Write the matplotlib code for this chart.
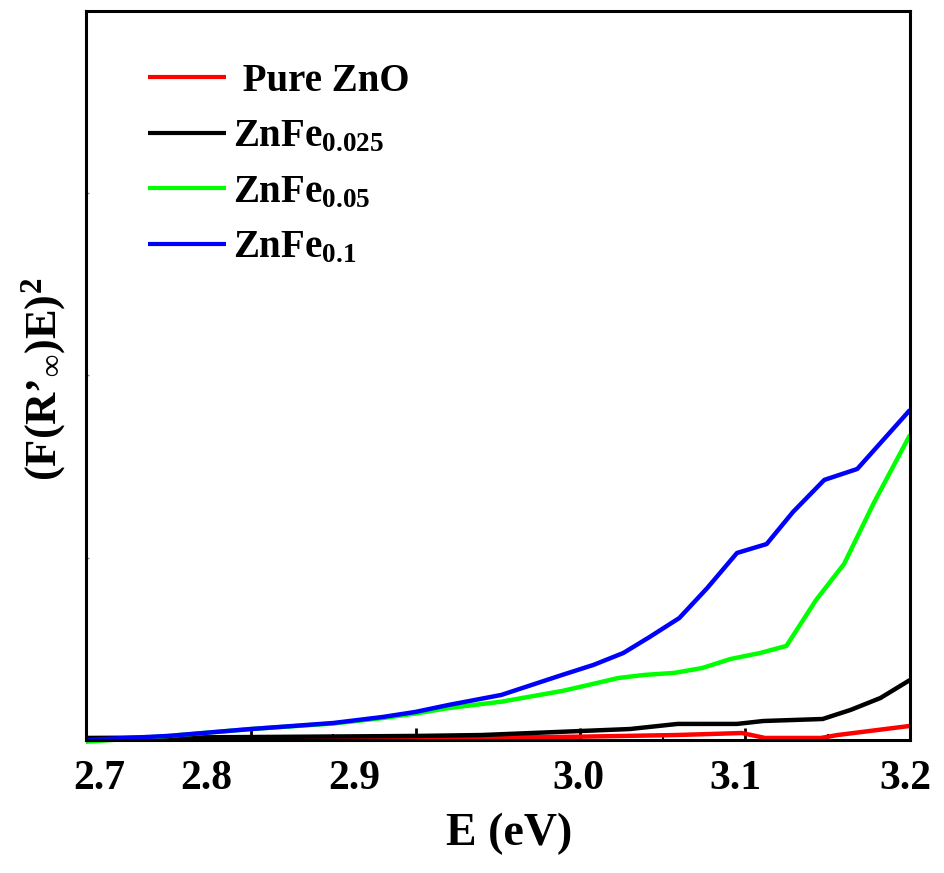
import matplotlib
matplotlib.use("Agg")
import matplotlib.pyplot as plt
from matplotlib.ticker import MultipleLocator, NullFormatter
from matplotlib.transforms import blended_transform_factory

plt.rcParams['font.family'] = ['Liberation Serif', 'DejaVu Serif']
plt.rcParams['font.weight'] = 'bold'
plt.rcParams['mathtext.fontset'] = 'custom'
plt.rcParams['mathtext.rm'] = 'Liberation Serif:bold'
plt.rcParams['mathtext.it'] = 'Liberation Serif:bold'
plt.rcParams['mathtext.bf'] = 'Liberation Serif:bold'
plt.rcParams['mathtext.default'] = 'rm'

# ---- data ----
e_pure = [2.70, 2.80, 2.90, 3.00, 3.058, 3.098, 3.112, 3.146, 3.156, 3.20]
y_pure = [0.000, 0.005, 0.008, 0.018, 0.027, 0.038, 0.011, 0.011, 0.027, 0.077]

e_fe025 = [2.70, 2.80, 2.90, 2.94, 2.97, 3.00, 3.03, 3.059, 3.095, 3.111, 3.147, 3.164, 3.182, 3.20]
y_fe025 = [0.011, 0.016, 0.022, 0.027, 0.038, 0.049, 0.060, 0.088, 0.088, 0.104, 0.115, 0.165, 0.230, 0.329]

e_fe05 = [2.70, 2.75, 2.80, 2.85, 2.88, 2.90, 2.92, 2.952, 2.989, 3.005, 3.023, 3.039,
          3.057, 3.074, 3.091, 3.109, 3.125, 3.143, 3.160, 3.178, 3.20]
y_fe05 = [-0.01, 0.022, 0.060, 0.090, 0.120, 0.145, 0.175, 0.210, 0.269, 0.302, 0.340, 0.357,
          0.368, 0.395, 0.444, 0.477, 0.516, 0.768, 0.966, 1.300, 1.674]

e_fe1 = [2.70, 2.75, 2.80, 2.826, 2.85, 2.88, 2.90, 2.92, 2.952, 2.989, 3.008, 3.026,
         3.042, 3.060, 3.077, 3.095, 3.113, 3.129, 3.148, 3.168, 3.20]
y_fe1 = [0.000, 0.022, 0.060, 0.077, 0.093, 0.126, 0.154, 0.192, 0.247, 0.357, 0.412, 0.477,
         0.565, 0.669, 0.834, 1.026, 1.075, 1.251, 1.427, 1.487, 1.811]

labels = [' Pure ZnO', r'ZnFe$_{0.025}$', r'ZnFe$_{0.05}$', r'ZnFe$_{0.1}$']
colors = ['#ff0000', '#000000', '#00ff00', '#0000ff']

xtick_labels = ['2.7', '2.8', '2.9', '3.0', '3.1', '3.2']
xtick_label_pos = [2.708, 2.773, 2.863, 2.999, 3.094, 3.197]

fig = plt.figure(figsize=(9.44, 8.73), dpi=100)
ax = fig.add_axes([0.0911, 0.1524, 0.8729, 0.8350])

series = [(e_pure, y_pure), (e_fe025, y_fe025), (e_fe05, y_fe05), (e_fe1, y_fe1)]
for (xs, ys), lab, c in zip(series, labels, colors):
    ax.plot(xs, ys, color=c, lw=3.2, label=lab, solid_capstyle='butt', clip_on=False)

ax.set_xlim(2.7, 3.2)
ax.set_ylim(0, 4)

for s in ax.spines.values():
    s.set_linewidth(2.2)

ax.xaxis.set_major_locator(MultipleLocator(0.1))
ax.xaxis.set_minor_locator(MultipleLocator(0.05))
ax.xaxis.set_major_formatter(NullFormatter())
ax.tick_params(axis='x', which='major', direction='in', length=9, width=2, top=False)
ax.tick_params(axis='x', which='minor', direction='in', length=4, width=1.5, top=False)
ax.yaxis.set_major_locator(MultipleLocator(1))
ax.yaxis.set_major_formatter(NullFormatter())
ax.tick_params(axis='y', which='major', direction='in', length=2, width=1, color='#888888')

trans = blended_transform_factory(ax.transData, ax.transAxes)
for pos, t in zip(xtick_label_pos, xtick_labels):
    ax.text(pos, -0.027, t, transform=trans, ha='center', va='top',
            fontsize=30, fontweight='bold')

ax.set_xlabel('E (eV)', fontsize=33, fontweight='bold')
ax.xaxis.set_label_coords(0.513, -0.10)
ax.set_ylabel(r'(F(R’$_{\infty}$)E)$^{2}$', fontsize=32, fontweight='bold')
ax.yaxis.set_label_coords(-0.022, 0.495)

leg = ax.legend(loc='upper left', bbox_to_anchor=(0.075, 0.929), frameon=False,
                handlelength=2.0, handletextpad=0.2, labelspacing=0.48,
                borderaxespad=0, borderpad=0, prop={'weight': 'bold', 'size': 28})
for line in leg.get_lines():
    line.set_linewidth(3)

fig.savefig('out.png', dpi=100)
